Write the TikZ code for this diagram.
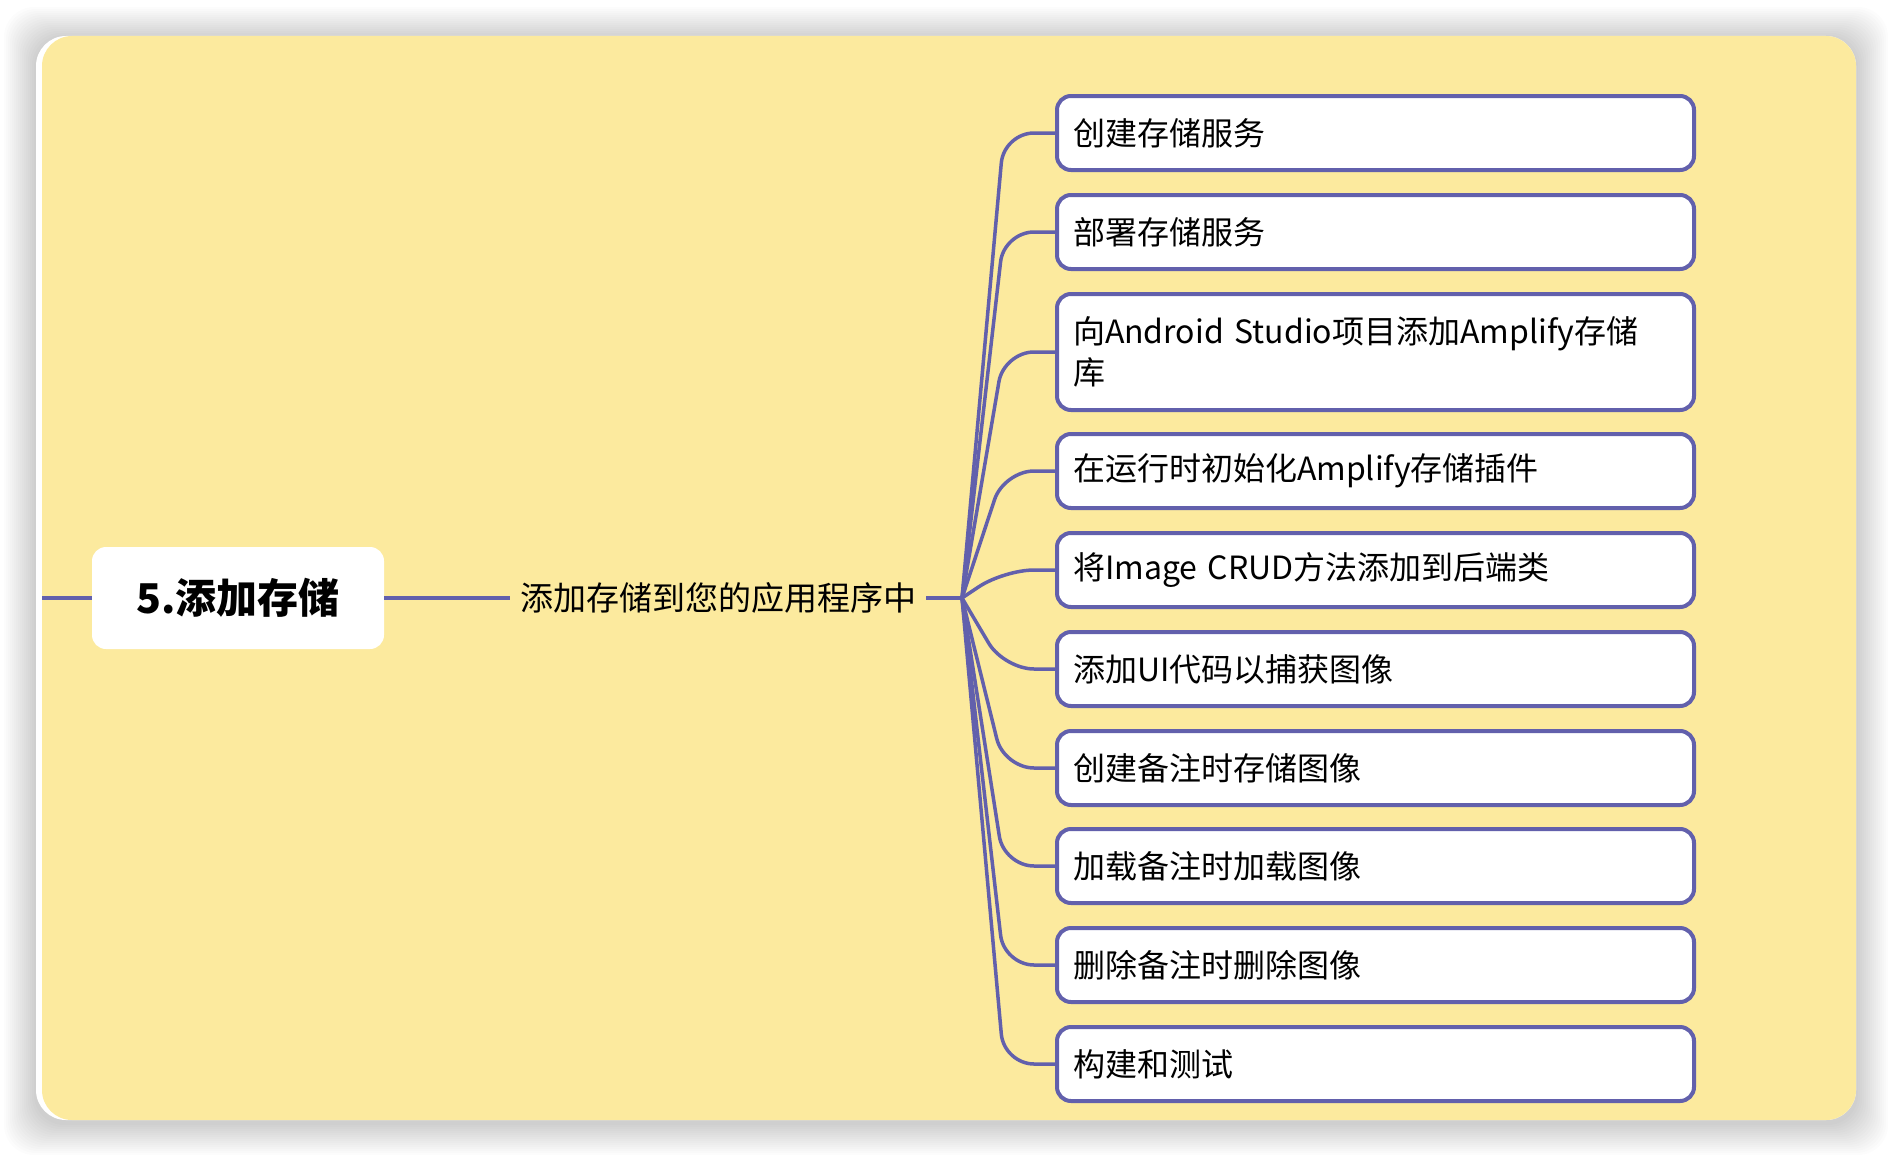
\documentclass[tikz,border=0pt]{standalone}
\usepackage{fontspec}
\setmainfont{Noto Sans CJK SC}
\newfontfamily\cjk{Noto Sans CJK SC}
\definecolor{linec}{RGB}{98,96,172}
\definecolor{panel}{RGB}{252,234,158}
\begin{document}
\begin{tikzpicture}[x=1pt,y=-1pt,
  conn/.style={draw=linec,line width=3.5pt},
  leaf/.style={draw=linec,line width=4pt,fill=white,rounded corners=14pt,
    anchor=west,minimum width=637pt,minimum height=74pt,text width=605pt,
    inner xsep=16pt,align=left,font=\cjk\fontsize{32}{41}\selectfont},
  rootbox/.style={fill=white,rounded corners=14pt,minimum width=292pt,minimum height=102pt,
    font=\cjk\bfseries\fontsize{41}{48}\selectfont},
  midtext/.style={inner xsep=10pt,font=\cjk\fontsize{33}{40}\selectfont}]
\useasboundingbox (0,0) rectangle (1892,1156);
\fill[white] (0,0) rectangle (1892,1156);
\foreach \i in {1,...,16}{
  \fill[black,opacity=0.011,rounded corners=30pt] (36-2*\i,36-2*\i+3) rectangle (1856+2*\i,1120+2*\i+3);
}
\fill[white,rounded corners=30pt] (36,36) rectangle (1856,1120);
\fill[panel,rounded corners=30pt] (42,36) rectangle (1856,1120);

\node[rootbox] (root) at (238,598) {5.添加存储};
\node[midtext,anchor=west] (mid) at (510,598) {添加存储到您的应用程序中};
\coordinate (lft) at (42,598);
\coordinate (hub) at (962,598);

\node[leaf] (b1) at (1055,133) {创建存储服务};
\node[leaf] (b2) at (1055,232) {部署存储服务};
\node[leaf,minimum height=116pt] (b3) at (1055,352) {向Android Studio项目添加Amplify存储\\库};
\node[leaf] (b4) at (1055,471) {在运行时初始化Amplify存储插件};
\node[leaf] (b5) at (1055,570) {将Image CRUD方法添加到后端类};
\node[leaf] (b6) at (1055,669) {添加UI代码以捕获图像};
\node[leaf] (b7) at (1055,768) {创建备注时存储图像};
\node[leaf] (b8) at (1055,866) {加载备注时加载图像};
\node[leaf] (b9) at (1055,965) {删除备注时删除图像};
\node[leaf] (b10) at (1055,1064) {构建和测试};

\draw[conn] (lft) -- (root.west);
\draw[conn] (root.east) -- (mid.west);
\draw[conn] (mid.east) -- (hub);
\foreach \b in {b1,b2,b3,b4,b5,b6,b7,b8,b9,b10}{
  \draw[conn,rounded corners=30pt] (hub) -- (\b.west -| 1004,0) -- (\b.west);
}
\end{tikzpicture}
\end{document}
